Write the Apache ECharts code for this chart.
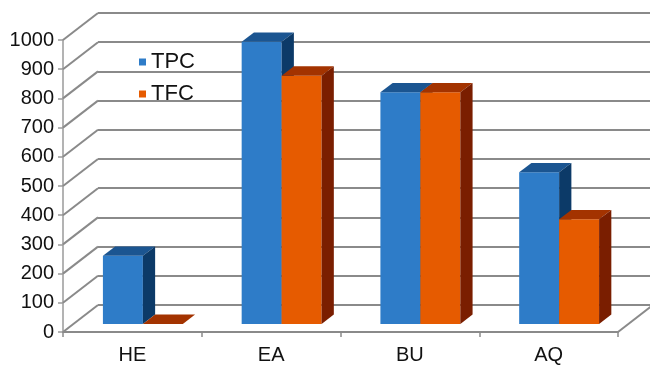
<!DOCTYPE html>
<html><head><meta charset="utf-8">
<script src="https://cdn.jsdelivr.net/npm/echarts@6/dist/echarts.min.js"></script>
<style>html,body{margin:0;padding:0;background:#fff}#c{width:650px;height:366px}</style>
</head><body><div id="c"></div>
<script>
// ---- data ----
const categories = ['HE', 'EA', 'BU', 'AQ'];
const tpcValues = [233, 966, 793, 519];
const tfcValues = [0, 850, 793, 358];
const yTicks = [0, 100, 200, 300, 400, 500, 600, 700, 800, 900, 1000];

// ---- 3D look (style constants) ----
const DX = 35, DY = -27;      // floor depth offset
const D0 = 0.3, D1 = 0.35;    // bar front offset and bar depth (fraction of floor depth)
const BAR_FRAC = 0.288;       // bar width as fraction of category band
const GRID_COLOR = '#8a8a8a';
const FONT = 'Liberation Sans, Arial, sans-serif';
const tpcColors = {front: '#2e7cc8', top: '#1b5591', side: '#0c3a68'};
const tfcColors = {front: '#e65b00', top: '#a33300', side: '#7a1e00'};

function barRenderer(side, colors) {
  return function (params, api) {
    const idx = api.value(0), v = api.value(1);
    const top = api.coord([idx, v]);
    const base = api.coord([idx, 0]);
    const band = api.size([1, 0])[0];
    const w = band * BAR_FRAC;
    const ox = DX * D0, oy = DY * D0;
    const dx = DX * D1, dy = DY * D1;
    const x0 = base[0] + ox + (side < 0 ? -w : 0);
    const x1 = x0 + w;
    const yt = top[1] + oy, yb = base[1] + oy;
    return {type: 'group', children: [
      {type: 'rect', shape: {x: x0, y: yt, width: w, height: yb - yt}, style: {fill: colors.front}},
      {type: 'polygon', shape: {points: [[x0, yt], [x1, yt], [x1 + dx, yt + dy], [x0 + dx, yt + dy]]}, style: {fill: colors.top}},
      {type: 'polygon', shape: {points: [[x1, yt], [x1, yb], [x1 + dx, yb + dy], [x1 + dx, yt + dy]]}, style: {fill: colors.side}}
    ]};
  };
}

const G = {left: 63, top: 40, width: 555, height: 292};
const chart = echarts.init(document.getElementById('c'), null, {renderer: 'canvas'});
chart.setOption({
  animation: false,
  backgroundColor: '#fff',
  textStyle: {fontFamily: FONT},
  legend: {
    data: ['TPC', 'TFC'], orient: 'vertical', left: 134, top: 46,
    icon: 'rect', itemWidth: 7, itemHeight: 7, itemGap: 10,
    textStyle: {fontSize: 22, color: '#111', fontFamily: FONT, lineHeight: 22}
  },
  grid: [
    {left: G.left, top: G.top, width: G.width, height: G.height},
    {left: G.left + DX, top: G.top + DY, width: G.width, height: G.height}
  ],
  xAxis: [
    {type: 'category', gridIndex: 0, data: categories, boundaryGap: true,
     axisLine: {show: true, lineStyle: {color: GRID_COLOR, width: 2}},
     axisTick: {show: true, length: 5, interval: 0, lineStyle: {color: GRID_COLOR, width: 1.5}},
     axisLabel: {fontSize: 20, color: '#111', margin: 13, fontFamily: FONT}},
    {type: 'category', gridIndex: 1, data: categories, show: false}
  ],
  yAxis: [
    {type: 'value', gridIndex: 0, min: 0, max: 1000, interval: 100,
     axisLine: {show: true, lineStyle: {color: '#9a9a9a', width: 1.5}},
     axisTick: {show: true, length: 5, lineStyle: {color: '#9a9a9a', width: 1.5}},
     splitLine: {show: false},
     axisLabel: {fontSize: 20, color: '#111', margin: 9, fontFamily: FONT,
                 formatter: function (v) { return String(v); }}},
    {type: 'value', gridIndex: 1, min: 0, max: 1000, interval: 100,
     axisLine: {show: false}, axisTick: {show: false}, axisLabel: {show: false},
     splitLine: {show: true, lineStyle: {color: GRID_COLOR, width: 2}}}
  ],
  series: [
    { // left wall diagonals
      type: 'custom', xAxisIndex: 0, yAxisIndex: 0, silent: true, z: 1,
      data: yTicks.map(v => [0, v]),
      renderItem: function (params, api) {
        const p = api.coord([0, api.value(1)]);
        const x = params.coordSys.x;
        return {type: 'line', shape: {x1: x, y1: p[1], x2: x + DX, y2: p[1] + DY},
                style: {stroke: GRID_COLOR, lineWidth: 2}};
      }
    },
    { // floor right edge
      type: 'custom', xAxisIndex: 0, yAxisIndex: 0, silent: true, z: 1,
      data: [[0, 0]],
      renderItem: function (params, api) {
        const p = api.coord([0, 0]);
        const x = params.coordSys.x + params.coordSys.width;
        return {type: 'line', shape: {x1: x, y1: p[1], x2: x + DX, y2: p[1] + DY},
                style: {stroke: GRID_COLOR, lineWidth: 2}};
      }
    },
    {
      name: 'TPC', type: 'custom', xAxisIndex: 0, yAxisIndex: 0, z: 3,
      itemStyle: {color: tpcColors.front},
      encode: {x: 0, y: 1},
      data: categories.map((c, i) => [i, tpcValues[i]]),
      renderItem: barRenderer(-1, tpcColors)
    },
    {
      name: 'TFC', type: 'custom', xAxisIndex: 0, yAxisIndex: 0, z: 4,
      itemStyle: {color: tfcColors.front},
      encode: {x: 0, y: 1},
      data: categories.map((c, i) => [i, tfcValues[i]]),
      renderItem: barRenderer(1, tfcColors)
    }
  ]
});
</script></body></html>
